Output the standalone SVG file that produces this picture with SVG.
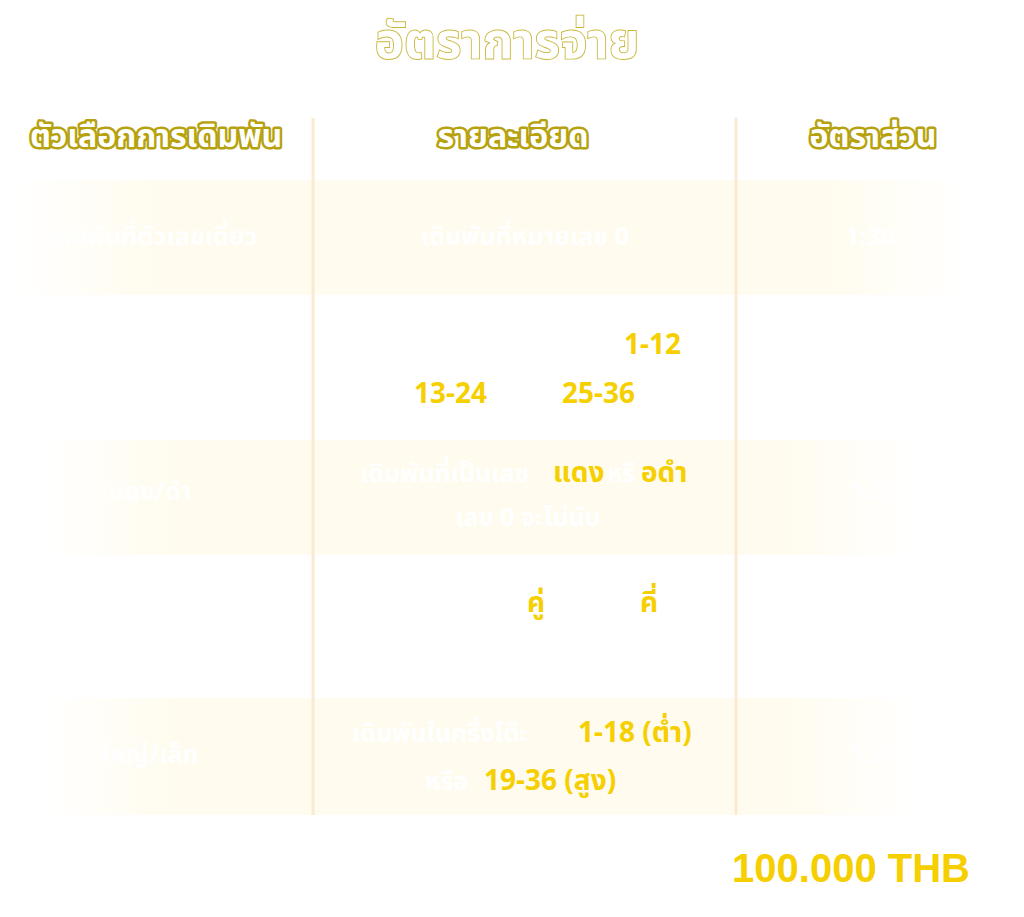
<svg xmlns="http://www.w3.org/2000/svg" width="1024" height="917" viewBox="0 0 1024 917">
<style>
.th{font-family:"Noto Sans","Noto Sans Thai","DejaVu Sans",sans-serif;font-weight:700}
.title{font-size:49px;fill:#ffffff;stroke:#c9b73a;stroke-width:1.8px;paint-order:stroke}
.hdr{font-size:32px;fill:#ffffff;stroke:#b6a10e;stroke-width:5px;paint-order:stroke;stroke-linejoin:round}
.cell{font-size:25px;fill:#ffffff}
.y{fill:#f6cf00;font-size:28px}
.div{stroke:#fbead2;stroke-width:3}
</style>
<defs>
<linearGradient id="rowA" x1="0" y1="0" x2="1" y2="0">
<stop offset="0" stop-color="#fffcef" stop-opacity="0"/>
<stop offset="0.15" stop-color="#fffcef" stop-opacity="1"/>
<stop offset="0.85" stop-color="#fffcef" stop-opacity="1"/>
<stop offset="1" stop-color="#fffcef" stop-opacity="0"/>
</linearGradient>
</defs>
<rect width="1024" height="917" fill="#ffffff"/>
<text class="th title" x="507" y="58" text-anchor="middle">อัตราการจ่าย</text>
<g id="header">
<text class="th hdr" x="156" y="147" text-anchor="middle">ตัวเลือกการเดิมพัน</text>
<text class="th hdr" x="513" y="147" text-anchor="middle">รายละเอียด</text>
<text class="th hdr" x="873" y="147" text-anchor="middle">อัตราส่วน</text>
</g>
<g id="row-backgrounds">
<rect x="10" y="180" width="960" height="115" fill="url(#rowA)"/>
<rect x="40" y="440" width="880" height="115" fill="url(#rowA)"/>
<rect x="40" y="698" width="880" height="117" fill="url(#rowA)"/>
</g>
<g id="connectors">
<line class="div" x1="313" y1="118" x2="313" y2="815"/>
<line class="div" x1="736" y1="118" x2="736" y2="815"/>
</g>
<g id="row1">
<text class="th cell" x="152" y="245" text-anchor="middle">เดิมพันที่ตัวเลขเดี่ยว</text>
<text class="th cell" x="525" y="245" text-anchor="middle">เดิมพันที่หมายเลข 0</text>
<text class="th cell" x="870" y="245" text-anchor="middle">1:36</text>
</g>
<g id="row2">
<text class="th cell" x="400" y="354">เดิมพันกลุ่มตัวเลข <tspan class="y" x="624">1-12</tspan></text>
<text class="th cell" x="414" y="403"><tspan class="y">13-24</tspan> <tspan x="505">หรือ</tspan> <tspan class="y" x="562">25-36</tspan></text>
</g>
<g id="row3">
<text class="th cell" x="150" y="500" text-anchor="middle">แดง/ดำ</text>
<text class="th cell" x="360" y="482">เดิมพันที่เป็นเลข <tspan class="y" x="553">แดง</tspan><tspan x="607">หรื</tspan><tspan class="y" x="641">อดำ</tspan></text>
<text class="th cell" x="528" y="526" text-anchor="middle">เลข 0 จะไม่นับ</text>
<text class="th cell" x="868" y="500" text-anchor="middle">1:2</text>
</g>
<g id="row4">
<text class="th cell" x="155" y="636" text-anchor="middle">เลขคู่/เลขคี่</text>
<text class="th cell" x="385" y="612">เดิมพันเลข <tspan class="y" x="527">คู่</tspan><tspan x="565">หรือ</tspan><tspan class="y" x="640">คี่</tspan></text>
</g>
<g id="row5">
<text class="th cell" x="150" y="763" text-anchor="middle">ใหญ่/เล็ก</text>
<text class="th cell" x="352" y="742">เดิมพันในครึ่งโต๊ะ <tspan class="y" x="578">1-18 (ต่ำ)</tspan></text>
<text class="th cell" x="425" y="790">หรือ <tspan class="y" x="484">19-36 (สูง)</tspan></text>
<text class="th cell" x="868" y="763" text-anchor="middle">1:2</text>
</g>
<g id="footer">
<text x="970" y="882" text-anchor="end" style="font-family:'Liberation Sans',Arial,sans-serif;font-weight:700;font-size:40px;fill:#f6cf00">100.000 THB</text>
</g>
</svg>
